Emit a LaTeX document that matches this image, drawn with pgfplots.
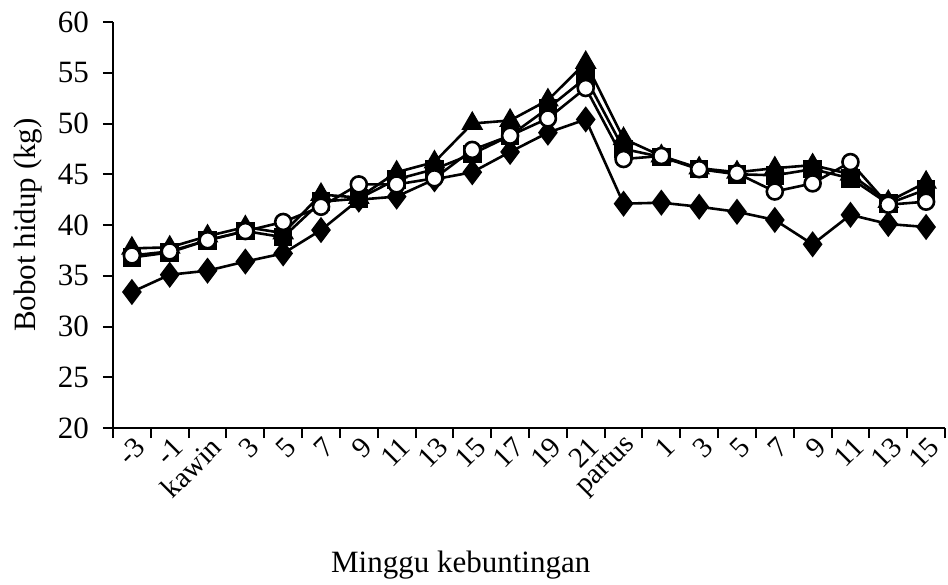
\documentclass[border=0pt]{standalone}
\usepackage{fontspec}
\setmainfont{Liberation Serif}
\usepackage{pgfplots}
\pgfplotsset{compat=1.18}
\begin{document}
\begin{tikzpicture}
\path[use as bounding box] (-56.5pt,-78pt) rectangle (417.5pt,214pt);
\begin{axis}[
  scale only axis, width=416pt, height=203pt,
  xmin=-0.5, xmax=21.5, ymin=20, ymax=60,
  ytick={20,25,...,60},
  xtick={0,...,21},
  xticklabels={-3,-1,kawin,3,5,7,9,11,13,15,17,19,21,partus,1,3,5,7,9,11,13,15},
  minor xtick={-0.5,0.5,...,21.5},
  axis lines*=left,
  tick align=outside,
  major tick length=5pt, minor tick length=5pt,
  major x tick style={draw=none},
  axis line style={line width=1pt, black},
  tick style={line width=1pt, black},
  ticklabel style={font=\fontsize{15.5}{18}\selectfont},
  label style={font=\fontsize{15.5}{18}\selectfont},
  /pgf/number format/assume math mode=true,
  yticklabel style={xshift=-3.5pt},
  xticklabel style={rotate=45, anchor=east, font=\fontsize{14.5}{17}\selectfont, xshift=5pt, yshift=-4.5pt},
  xlabel={Minggu kebuntingan},
  ylabel={Bobot hidup (kg)},
  xlabel style={at={(axis description cs:0.418,-0.337)}, anchor=center},
  ylabel style={at={(axis description cs:-0.102,0.5)}, anchor=center},
  every axis plot/.append style={black, line width=1.3pt},
  clip=false,
]
% diamond
\addplot[mark=diamond*, mark size=5.5pt, mark options={solid, fill=black}] coordinates {
(0,33.4) (1,35.1) (2,35.5) (3,36.4) (4,37.2) (5,39.5) (6,42.5) (7,42.8) (8,44.5) (9,45.2) (10,47.2)
(11,49.1) (12,50.4) (13,42.1) (14,42.2) (15,41.8) (16,41.3) (17,40.5) (18,38.1) (19,41.0) (20,40.1) (21,39.8)};
% triangle
\addplot[mark=triangle*, mark size=5pt, mark options={solid, fill=black}] coordinates {
(0,37.7) (1,37.8) (2,38.9) (3,39.8) (4,39.2) (5,43.0) (6,42.7) (7,45.2) (8,46.2) (9,50.0) (10,50.3)
(11,52.3) (12,56.0) (13,48.5) (14,46.8) (15,45.6) (16,45.2) (17,45.6) (18,45.9) (19,45.0) (20,42.3) (21,44.2)};
% square
\addplot[mark=square*, mark size=4pt, mark options={solid, fill=black}] coordinates {
(0,36.8) (1,37.3) (2,38.5) (3,39.4) (4,38.8) (5,42.3) (6,42.6) (7,44.5) (8,45.5) (9,47.0) (10,48.8)
(11,51.5) (12,54.5) (13,47.5) (14,46.7) (15,45.5) (16,45.0) (17,44.9) (18,45.5) (19,44.6) (20,42.1) (21,43.5)};
% circle
\addplot[mark=*, mark size=4pt, mark options={solid, fill=white, draw=black}] coordinates {
(0,37.0) (1,37.4) (2,38.5) (3,39.4) (4,40.3) (5,41.8) (6,44.0) (7,44.0) (8,44.6) (9,47.4) (10,48.8)
(11,50.5) (12,53.5) (13,46.5) (14,46.8) (15,45.5) (16,45.1) (17,43.3) (18,44.1) (19,46.2) (20,42.0) (21,42.3)};
\end{axis}
\end{tikzpicture}
\end{document}
